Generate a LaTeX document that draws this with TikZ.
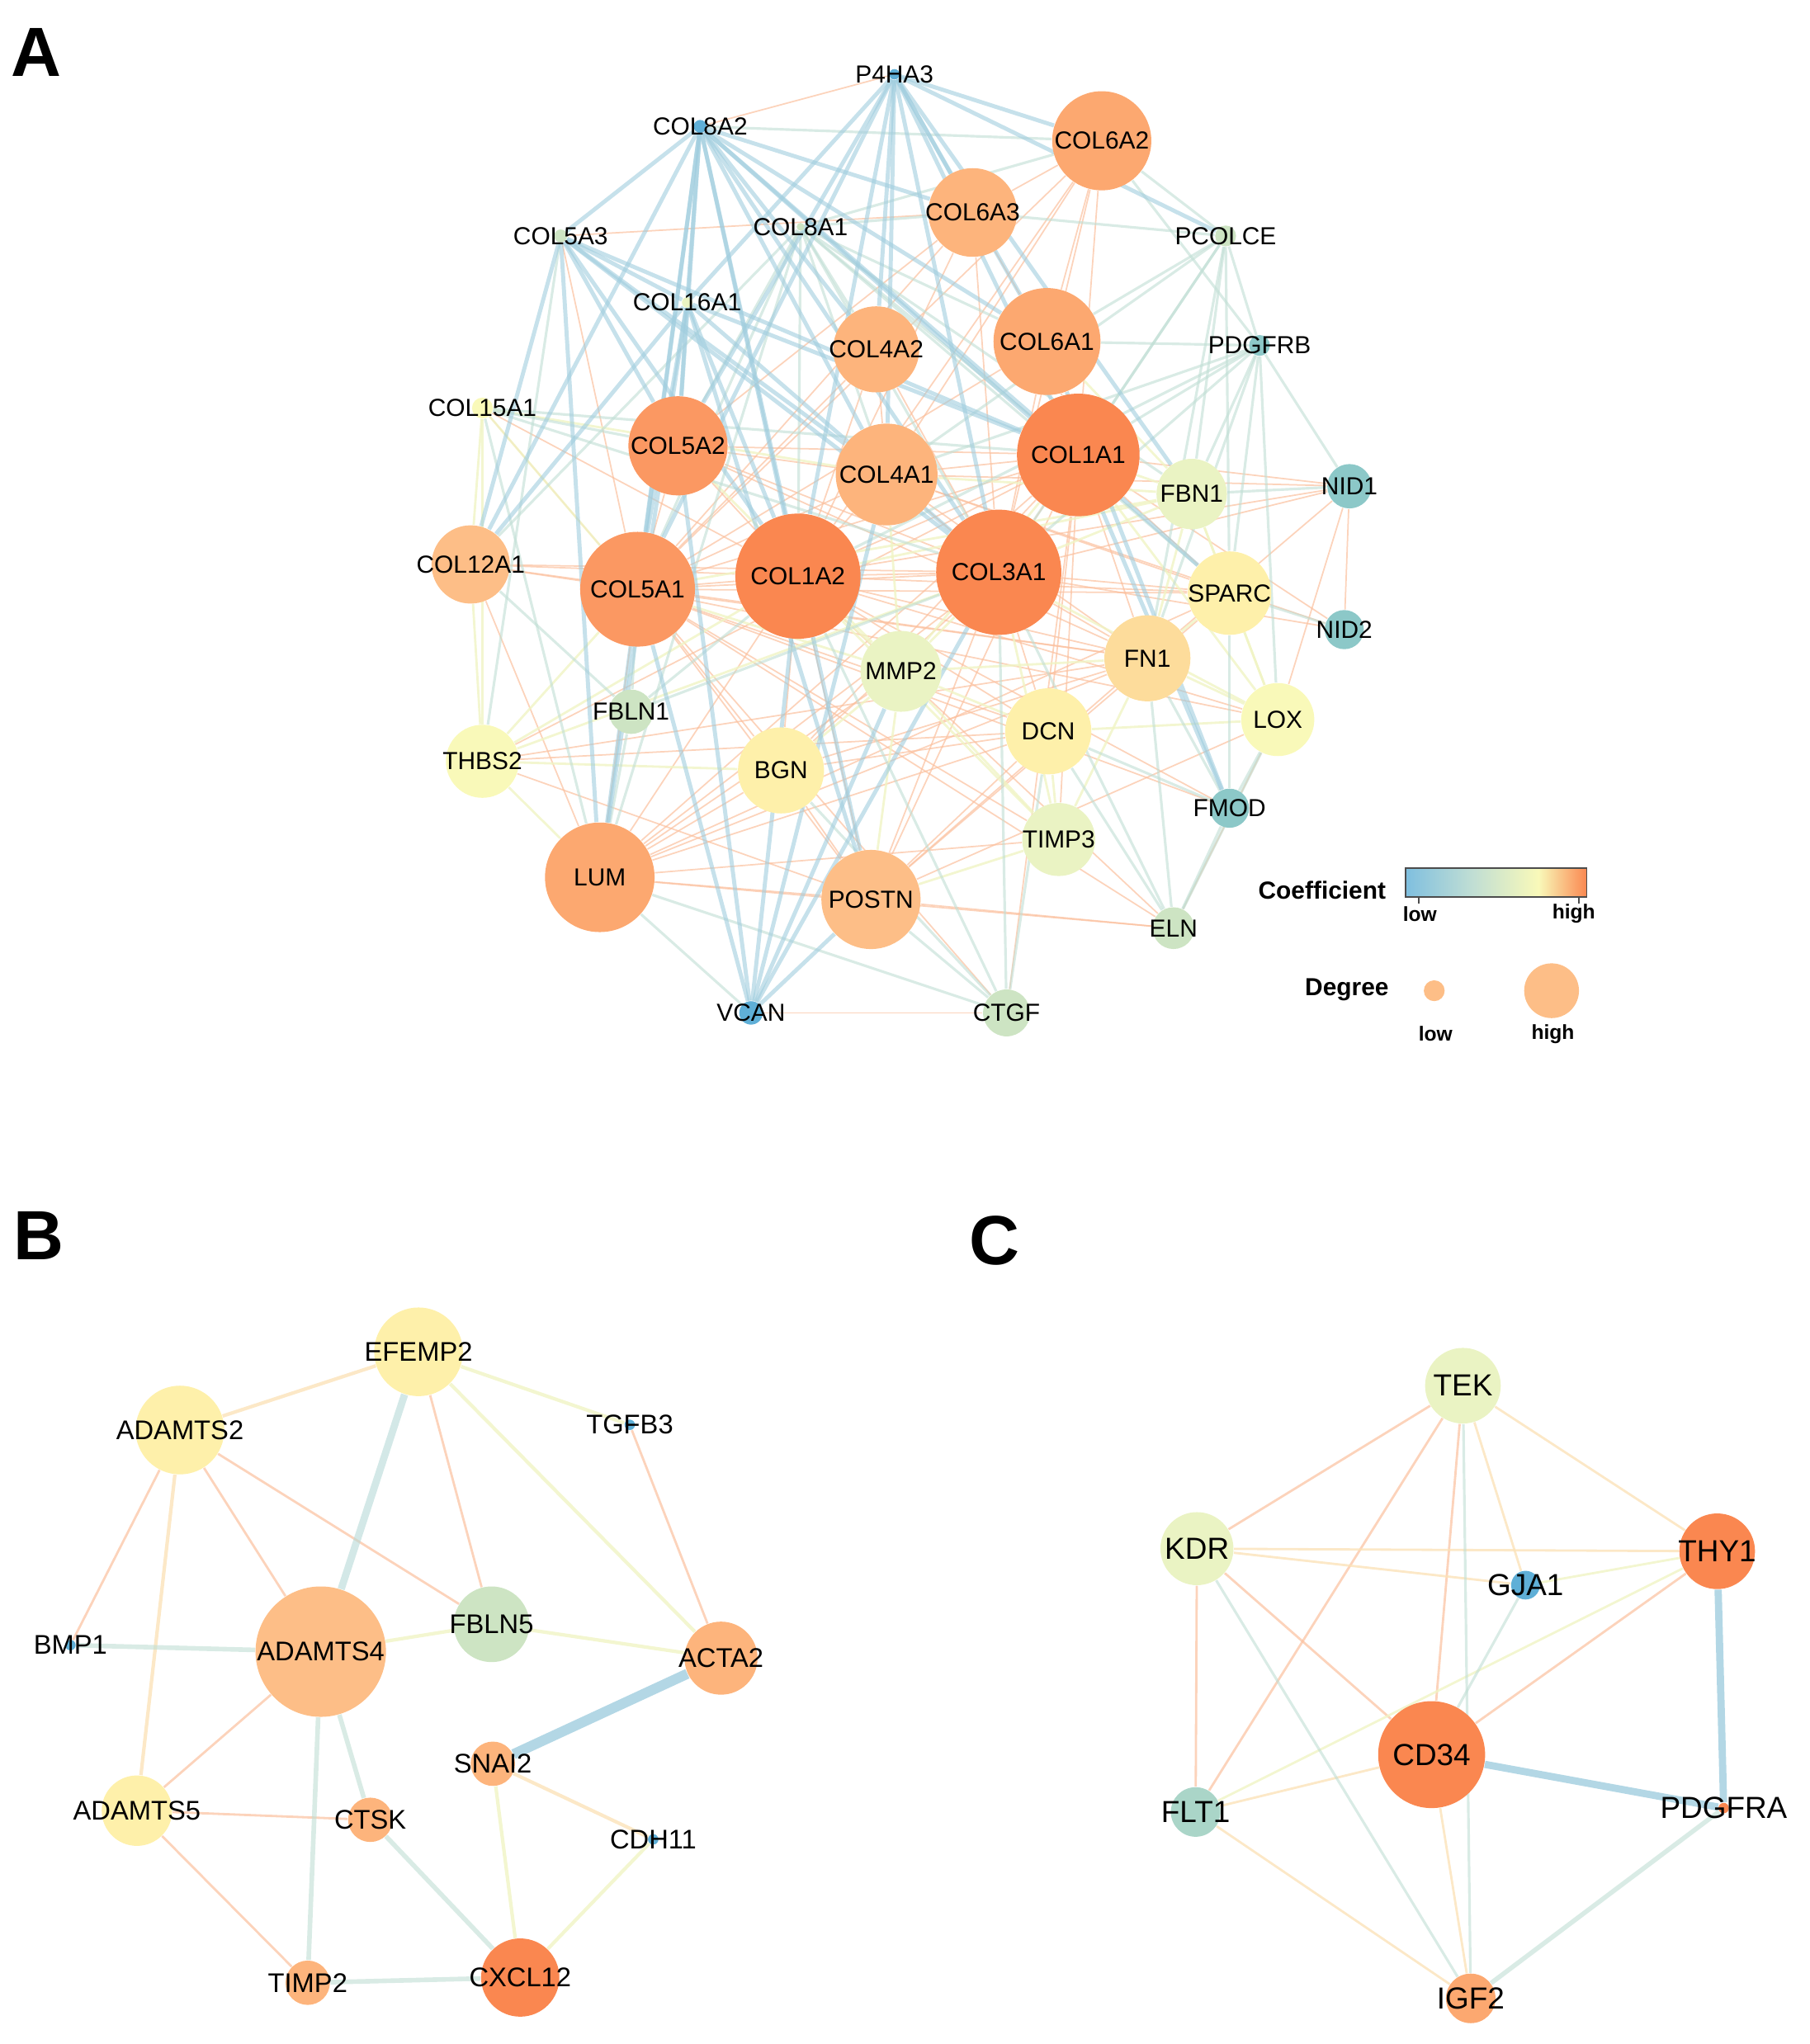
\documentclass[tikz,border=0pt]{standalone}
\usepackage{fontspec}
\setmainfont{Liberation Sans}
\usepackage{xcolor}
\definecolor{deep}{RGB}{250,135,80}
\definecolor{orangeA}{RGB}{251,152,98}
\definecolor{orangeB}{RGB}{252,168,112}
\definecolor{orangeC}{RGB}{253,180,124}
\definecolor{orangeD}{RGB}{253,190,135}
\definecolor{peach}{RGB}{253,220,155}
\definecolor{paleyel}{RGB}{254,240,170}
\definecolor{yel}{RGB}{249,249,185}
\definecolor{ygreen}{RGB}{234,243,195}
\definecolor{pgreen}{RGB}{205,228,195}
\definecolor{tealg}{RGB}{170,213,200}
\definecolor{teal}{RGB}{140,200,200}
\definecolor{lblue}{RGB}{95,175,215}
\definecolor{eblue}{RGB}{160,205,222}
\definecolor{egreen}{RGB}{192,222,212}
\definecolor{eyellow}{RGB}{240,244,196}
\definecolor{eorange}{RGB}{251,192,158}
\definecolor{epeach}{RGB}{251,226,185}
\usepackage{tikz}
\usetikzlibrary{
    positioning,
    backgrounds
}

\begin{document}
\begin{tikzpicture}[
        x=0.0158cm, y=-0.0158cm,
        gene/.style 2 args={circle, draw=none, fill=#2, minimum size={#1*0.316mm}, inner sep=0pt},
        panel/.style={font=\fontsize{24}{28}\selectfont\bfseries, inner sep=0pt},
        legend/.style={font=\fontsize{8.5}{10}\selectfont\bfseries, inner sep=0pt},
        tick/.style={font=\fontsize{7}{8}\selectfont\bfseries, inner sep=0pt},
        lowc/.style={eblue, line width=1.4pt, opacity=0.6},
        midc/.style={egreen, line width=0.9pt, opacity=0.6},
        yelc/.style={eyellow, line width=0.8pt, opacity=0.8},
        highc/.style={eorange, line width=0.5pt, opacity=0.7}
    ]
        \useasboundingbox (0,0) rectangle (1388,1568);

        % panel letters
        \node[panel] (labA) at (28,40) {A};
        \node[panel] (labB) at (30,948) {B};
        \node[panel] (labC) at (763,952) {C};

        % ---------- A ----------
        \begin{scope}[every label/.style={font=\fontsize{8.5}{10}\selectfont, inner sep=0pt}]
        \node[gene={4}{lblue}, label=center:P4HA3] (p4ha3) at (686,57) {};
        \node[gene={5}{lblue}, label=center:COL8A2] (col8a2) at (537,97) {};
        \node[gene={38}{orangeB}, label=center:COL6A2] (col6a2) at (845,108) {};
        \node[gene={34}{orangeC}, label=center:COL6A3] (col6a3) at (746,163) {};
        \node[gene={3}{pgreen}, label=center:COL8A1] (col8a1) at (614,174) {};
        \node[gene={5}{pgreen}, label=center:COL5A3] (col5a3) at (430,181) {};
        \node[gene={8}{pgreen}, label=center:PCOLCE] (pcolce) at (940,181) {};
        \node[gene={4}{ygreen}, label=center:COL16A1] (col16a1) at (527,232) {};
        \node[gene={33}{orangeC}, label=center:COL4A2] (col4a2) at (672,268) {};
        \node[gene={41}{orangeB}, label=center:COL6A1] (col6a1) at (803,262) {};
        \node[gene={8}{teal}, label=center:PDGFRB] (pdgfrb) at (966,265) {};
        \node[gene={8}{yel}, label=center:COL15A1] (col15a1) at (370,313) {};
        \node[gene={38}{orangeA}, label=center:COL5A2] (col5a2) at (520,342) {};
        \node[gene={39}{orangeC}, label=center:COL4A1] (col4a1) at (680,364) {};
        \node[gene={47}{deep}, label=center:COL1A1] (col1a1) at (827,349) {};
        \node[gene={27}{ygreen}, label=center:FBN1] (fbn1) at (914,379) {};
        \node[gene={17}{teal}, label=center:NID1] (nid1) at (1035,373) {};
        \node[gene={30}{orangeD}, label=center:COL12A1] (col12a1) at (361,433) {};
        \node[gene={44}{orangeA}, label=center:COL5A1] (col5a1) at (489,452) {};
        \node[gene={48}{deep}, label=center:COL1A2] (col1a2) at (612,442) {};
        \node[gene={48}{deep}, label=center:COL3A1] (col3a1) at (766,439) {};
        \node[gene={32}{paleyel}, label=center:SPARC] (sparc) at (943,455) {};
        \node[gene={15}{teal}, label=center:NID2] (nid2) at (1031,483) {};
        \node[gene={33}{peach}, label=center:FN1] (fn1) at (880,505) {};
        \node[gene={31}{ygreen}, label=center:MMP2] (mmp2) at (691,515) {};
        \node[gene={17}{pgreen}, label=center:FBLN1] (fbln1) at (484,546) {};
        \node[gene={33}{paleyel}, label=center:DCN] (dcn) at (804,561) {};
        \node[gene={28}{yel}, label=center:LOX] (lox) at (980,552) {};
        \node[gene={28}{yel}, label=center:THBS2] (thbs2) at (370,584) {};
        \node[gene={33}{paleyel}, label=center:BGN] (bgn) at (599,591) {};
        \node[gene={15}{teal}, label=center:FMOD] (fmod) at (943,620) {};
        \node[gene={28}{ygreen}, label=center:TIMP3] (timp3) at (812,644) {};
        \node[gene={42}{orangeB}, label=center:LUM] (lum) at (460,673) {};
        \node[gene={38}{orangeD}, label=center:POSTN] (postn) at (668,690) {};
        \node[gene={16}{pgreen}, label=center:ELN] (eln) at (900,712) {};
        \node[gene={9}{lblue}, label=center:VCAN] (vcan) at (576,777) {};
        \node[gene={18}{pgreen}, label=center:CTGF] (ctgf) at (772,777) {};
        \end{scope}

        \begin{scope}[on background layer]
        \foreach \a/\b in {col1a1/col1a2, col1a1/col3a1, col1a2/col3a1, col1a2/col5a1, col5a1/col5a2,
            col1a2/col5a2, col3a1/col5a1, col3a1/col5a2, col1a1/col5a1, col1a1/col5a2, col4a1/col4a2,
            col4a1/col1a1, col4a1/col1a2, col4a1/col3a1, col6a1/col6a2, col6a1/col6a3, col6a2/col6a3,
            col6a1/col1a1, col6a2/col1a1, col6a2/col3a1, col6a3/col3a1, col6a2/col1a2, col6a2/col5a1,
            col6a3/col1a2, col12a1/col1a2, col12a1/col5a1, col12a1/col3a1, lum/col1a2, lum/col3a1,
            lum/col5a1, lum/postn, lum/bgn, lum/dcn, lum/fn1, lum/col1a1, postn/col1a2, postn/col3a1,
            postn/col1a1, postn/col5a1, postn/fn1, postn/dcn, postn/bgn, postn/sparc, bgn/col1a2,
            bgn/col3a1, bgn/col5a1, bgn/dcn, dcn/col1a2, dcn/col3a1, dcn/col1a1, dcn/col5a1,
            fn1/col1a1, fn1/col3a1, fn1/col1a2, fn1/col5a1, fn1/col5a2, fn1/col4a1, sparc/col1a1,
            sparc/col3a1, sparc/col1a2, sparc/col5a1, sparc/col4a1, nid1/col1a1, nid1/col3a1,
            nid1/col4a1, nid1/col1a2, nid1/lox, nid1/fn1, nid1/nid2, nid2/col4a1, nid2/col1a1,
            nid2/col3a1, lox/col1a2, lox/col5a1, lox/eln, thbs2/col1a1, col5a1/col4a1, col5a2/col4a1,
            col15a1/col5a1, col8a2/p4ha3, col5a3/col6a3, vcan/ctgf, ctgf/col1a1, ctgf/col5a1,
            eln/col1a2, eln/postn, eln/lum, eln/col5a1, fmod/col1a2, fmod/col5a1, timp3/lum,
            timp3/col5a1, timp3/col1a1, mmp2/lum, col6a2/col4a1, col6a3/col5a2, col4a2/col5a1,
            col4a2/col3a1, thbs2/postn, thbs2/dcn, col12a1/lum, col12a1/fn1, col15a1/col1a2,
            col5a3/col5a1, thbs2/fn1, bgn/fn1, bgn/col1a1, lum/sparc, postn/lox, col4a2/col1a2,
            col6a1/col3a1, col6a1/col5a1, col6a3/col5a1}
            \draw[highc] (\a) -- (\b);
        \foreach \a/\b in {mmp2/col1a2, mmp2/col3a1, mmp2/col1a1, mmp2/col5a1, mmp2/col4a1,
            mmp2/timp3, mmp2/fn1, mmp2/dcn, mmp2/bgn, fbn1/col1a1, fbn1/col3a1, fbn1/sparc,
            fbn1/fn1, fbn1/col6a1, fbn1/lox, timp3/col3a1, timp3/col1a2, timp3/dcn, timp3/postn,
            thbs2/col5a1, thbs2/col1a2, thbs2/col12a1, thbs2/lum, thbs2/col3a1, lox/fn1,
            lox/sparc, lox/col1a1, lox/col3a1, col15a1/col12a1, sparc/fn1, col15a1/thbs2,
            mmp2/col5a2, mmp2/postn, fbn1/col1a2, fbn1/col5a1, fbn1/col4a1, timp3/fn1,
            lox/dcn, col15a1/col4a1, col15a1/col5a1, thbs2/bgn}
            \draw[yelc] (\a) -- (\b);
        \foreach \a/\b in {col8a1/col1a2, col8a1/col3a1, col8a1/col1a1, col8a1/col5a1,
            col8a1/col5a2, col8a1/col4a1, col8a1/col4a2, col8a1/col6a1, col8a1/col6a2,
            col8a1/col6a3, col8a1/lum, col8a1/col12a1, col8a1/fbn1, col8a1/sparc,
            col15a1/col5a2, col15a1/col3a1, col15a1/lum, col15a1/col1a1,
            pcolce/col6a2, pcolce/col6a1, pcolce/col1a1, pcolce/col3a1, pcolce/col6a3,
            pcolce/fbn1, pcolce/pdgfrb, pcolce/sparc, pcolce/fn1, pdgfrb/col1a1, pdgfrb/col3a1,
            pdgfrb/col6a1, pdgfrb/col6a2, pdgfrb/fbn1, pdgfrb/nid1, pdgfrb/sparc, pdgfrb/fn1,
            pdgfrb/lox, pdgfrb/col4a1, fbln1/col1a2, fbln1/col5a1, fbln1/lum, fbln1/col3a1,
            ctgf/postn, ctgf/col1a2, ctgf/col3a1, ctgf/lum, ctgf/bgn, ctgf/dcn, eln/fn1,
            eln/col3a1, eln/dcn, eln/lox, eln/fmod, fmod/lox, fmod/fn1, fmod/sparc, fmod/dcn,
            nid1/fbn1, nid2/sparc, vcan/lum, col5a3/thbs2, col8a2/col6a2, pdgfrb/col1a2,
            pcolce/col4a1, fbln1/col12a1}
            \draw[midc] (\a) -- (\b);
        \foreach \a/\b in {col8a2/col6a3, col8a2/col6a1, col8a2/col1a1, col8a2/col3a1,
            col8a2/col4a1, col8a2/col4a2, col8a2/col1a2, col8a2/col5a2, col8a2/col5a1,
            col8a2/col16a1, col8a2/col12a1, col8a2/lum, col8a2/col5a3, col8a2/postn,
            col8a2/sparc, p4ha3/col6a2, p4ha3/col6a3, p4ha3/col6a1, p4ha3/col1a1, p4ha3/col3a1,
            p4ha3/col4a1, p4ha3/col4a2, p4ha3/col1a2, p4ha3/col5a2, p4ha3/col5a1,
            p4ha3/col16a1, p4ha3/pcolce, p4ha3/fbn1, col5a3/col1a2,
            col5a3/col12a1, col5a3/lum, col5a3/col3a1, col5a3/col5a2, col5a3/col1a1,
            col5a3/col4a1, col5a3/col16a1, col16a1/lum, col16a1/col5a1, col16a1/col1a2,
            col16a1/col3a1, col16a1/col12a1, col16a1/col5a2, col16a1/col1a1, col16a1/postn,
            vcan/col1a2, vcan/col5a1, vcan/col5a2, vcan/col3a1, vcan/postn, vcan/mmp2,
            vcan/col4a1, col1a1/fmod, col6a1/fmod}
            \draw[lowc] (\a) -- (\b);
        \end{scope}

        % legend
        \node[legend] (coef) at (1014,683) {Coefficient};
        \shade[left color=lblue!80, right color=yel, middle color=egreen] (1078,666) rectangle (1180,688);
        \shade[left color=yel, right color=deep] (1180,666) rectangle (1217,688);
        \draw[black!70, line width=0.5pt] (1078,666) rectangle (1217,688);
        \draw[black!70, line width=0.5pt] (1088,688) -- (1088,693) (1211,688) -- (1211,693);
        \node[tick] (coeflow) at (1089,701) {low};
        \node[tick] (coefhigh) at (1207,701) {high};
        \node[legend] (degree) at (1033,759) {Degree};
        \node[gene={8}{orangeD}] (deglow) at (1100,760) {};
        \node[gene={21}{orangeD}] (deghigh) at (1190,760) {};
        \node[tick] (deglowtxt) at (1101,793) {low};
        \node[tick] (deghightxt) at (1191,793) {high};

        % ---------- B ----------
        \begin{scope}[every label/.style={font=\fontsize{9.3}{11}\selectfont, inner sep=0pt}]
        \node[gene={34}{paleyel}, label=center:EFEMP2] (efemp2) at (321,1037) {};
        \node[gene={34}{paleyel}, label=center:ADAMTS2] (adamts2) at (138,1097) {};
        \node[gene={4}{lblue}, label=center:TGFB3] (tgfb3) at (483,1093) {};
        \node[gene={4}{lblue}, label=center:BMP1] (bmp1) at (54,1262) {};
        \node[gene={50}{orangeD}, label=center:ADAMTS4] (adamts4) at (246,1267) {};
        \node[gene={29}{pgreen}, label=center:FBLN5] (fbln5) at (377,1246) {};
        \node[gene={28}{orangeC}, label=center:ACTA2] (acta2) at (553,1272) {};
        \node[gene={17}{orangeC}, label=center:SNAI2] (snai2) at (378,1353) {};
        \node[gene={27}{paleyel}, label=center:ADAMTS5] (adamts5) at (105,1389) {};
        \node[gene={17}{orangeC}, label=center:CTSK] (ctsk) at (284,1396) {};
        \node[gene={4}{lblue}, label=center:CDH11] (cdh11) at (501,1411) {};
        \node[gene={17}{orangeC}, label=center:TIMP2] (timp2) at (236,1521) {};
        \node[gene={30}{deep}, label=center:CXCL12] (cxcl12) at (399,1517) {};
        \end{scope}

        \begin{scope}[on background layer]
        \foreach \a/\b in {efemp2/fbln5, tgfb3/acta2, adamts2/bmp1, adamts2/adamts4,
            adamts2/fbln5, adamts4/adamts5, adamts5/ctsk, adamts5/timp2}
            \draw[highc, line width=0.8pt] (\a) -- (\b);
        \foreach \a/\b in {efemp2/adamts2, adamts2/adamts5, snai2/cdh11}
            \draw[yelc, epeach, line width=1.2pt] (\a) -- (\b);
        \foreach \a/\b in {adamts4/fbln5, cdh11/cxcl12, efemp2/acta2, efemp2/tgfb3,
            fbln5/acta2, snai2/cxcl12}
            \draw[yelc, line width=1.2pt] (\a) -- (\b);
        \foreach \a/\b in {bmp1/adamts4, adamts4/timp2, adamts4/ctsk, ctsk/cxcl12, timp2/cxcl12}
            \draw[midc, line width=1.6pt] (\a) -- (\b);
        \draw[lowc, egreen!70!eblue, line width=2.5pt] (efemp2) -- (adamts4);
        \draw[lowc, line width=3.5pt, opacity=0.8] (acta2) -- (snai2);
        \end{scope}

        % ---------- C ----------
        \begin{scope}[every label/.style={font=\fontsize{10.5}{12}\selectfont, inner sep=0pt}]
        \node[gene={29}{ygreen}, label=center:TEK] (tek) at (1122,1063) {};
        \node[gene={28}{ygreen}, label=center:KDR] (kdr) at (918,1188) {};
        \node[gene={29}{deep}, label=center:THY1] (thy1) at (1317,1190) {};
        \node[gene={11}{lblue}, label=center:GJA1] (gja1) at (1170,1216) {};
        \node[gene={41}{deep}, label=center:CD34] (cd34) at (1098,1346) {};
        \node[gene={4}{deep}, label=center:PDGFRA] (pdgfra) at (1322,1387) {};
        \node[gene={19}{tealg}, label=center:FLT1] (flt1) at (917,1390) {};
        \node[gene={19}{orangeB}, label=center:IGF2] (igf2) at (1128,1533) {};
        \end{scope}

        \begin{scope}[on background layer]
        \foreach \a/\b in {tek/kdr, tek/flt1, tek/cd34, kdr/flt1, kdr/cd34, thy1/cd34}
            \draw[highc, line width=0.8pt] (\a) -- (\b);
        \foreach \a/\b in {tek/gja1, tek/thy1, kdr/thy1, kdr/gja1, cd34/flt1, cd34/igf2, flt1/igf2}
            \draw[yelc, epeach] (\a) -- (\b);
        \foreach \a/\b in {thy1/gja1, thy1/flt1}
            \draw[yelc] (\a) -- (\b);
        \foreach \a/\b in {tek/igf2, kdr/igf2, gja1/cd34}
            \draw[midc] (\a) -- (\b);
        \draw[midc, line width=1.6pt] (pdgfra) -- (igf2);
        \draw[lowc, line width=2.5pt, opacity=0.8] (thy1) -- (pdgfra);
        \draw[lowc, line width=2.5pt, opacity=0.8] (cd34) -- (pdgfra);
        \end{scope}
    \end{tikzpicture}
\end{document}
